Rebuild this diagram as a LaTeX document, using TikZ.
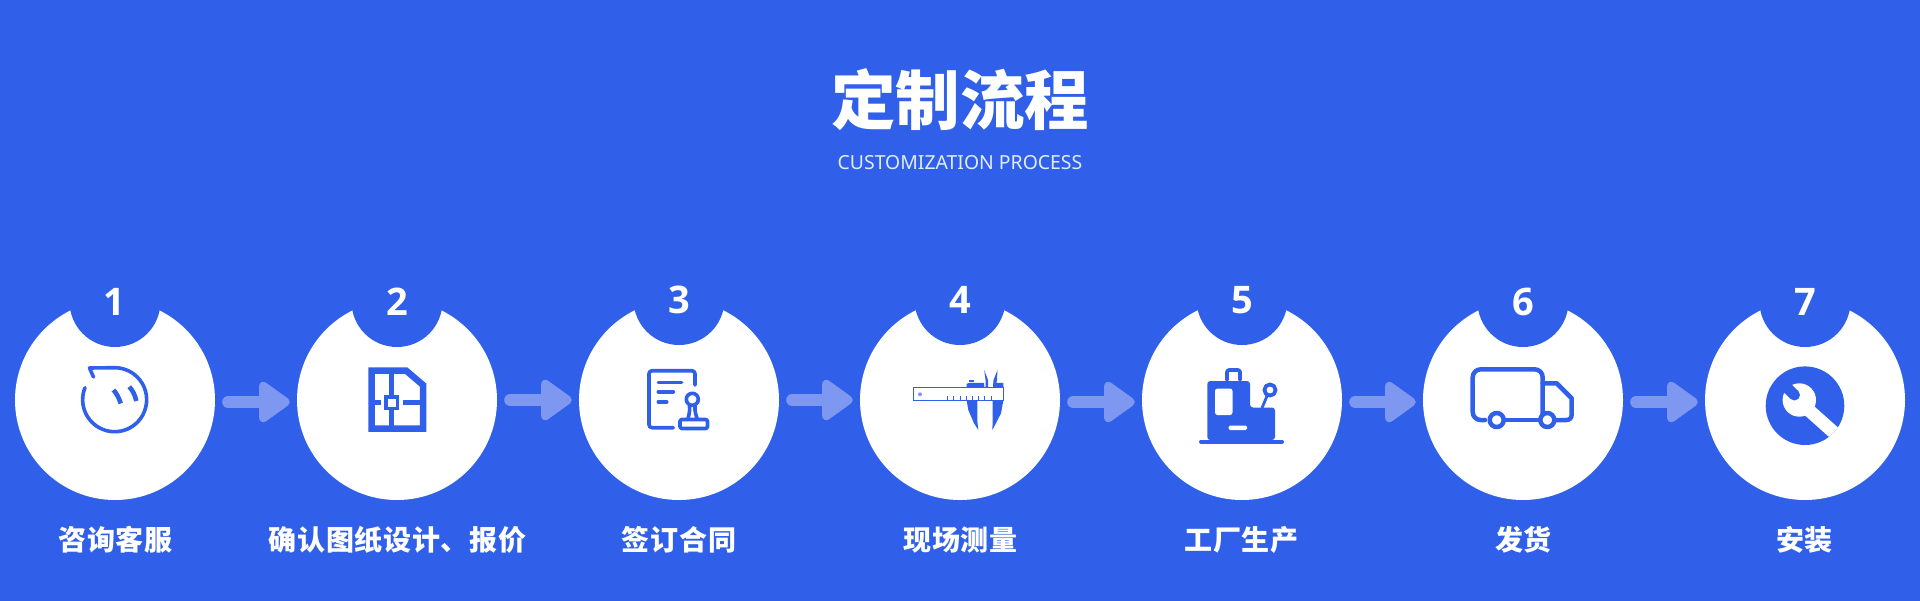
\documentclass[tikz,border=0pt]{standalone}
\usepackage{fontspec}
\usetikzlibrary{arrows.meta}
\setmainfont{Noto Sans}
\newfontfamily\cjk{Noto Sans CJK SC}
\newfontfamily\digitfont{Open Sans}
\newfontfamily\cjklab[LetterSpace=2.5]{Noto Sans CJK SC}
\definecolor{bgblue}{RGB}{48,96,234}
\definecolor{arrowblue}{RGB}{126,152,241}
\definecolor{subtxt}{RGB}{226,236,255}
\tikzset{
  bigdisc/.style={circle,fill=white,inner sep=0pt,minimum size=200pt},
  notchdisc/.style={circle,fill=bgblue,inner sep=0pt,minimum size=91pt},
  numtxt/.style={text=white,inner sep=0pt,font=\digitfont\bfseries\fontsize{38}{40}\selectfont},
  labtxt/.style={text=white,inner sep=0pt,font=\cjklab\bfseries\fontsize{28}{32}\selectfont},
  flowarrow/.style={draw=arrowblue,line width=12pt,line cap=round,shorten <=13pt,shorten >=7pt,
     -{Triangle[length=34pt,width=46pt,line width=9pt,round,fill=arrowblue,color=arrowblue]}},
  ico/.style={draw=bgblue,line width=3.6pt,line cap=round,line join=round,fill=none},
  icofill/.style={fill=bgblue,draw=none},
}
\begin{document}
\begin{tikzpicture}[x=1pt,y=-1pt]
\useasboundingbox (0,0) rectangle (1920,600);
\fill[bgblue] (-5,-5) rectangle (1925,605);
\node[text=white,inner sep=0pt,font=\cjk\bfseries\fontsize{64.5}{70}\selectfont] (title) at (960,100) {定制流程};
\node[text=subtxt,inner sep=0pt,font=\fontsize{19.4}{22}\selectfont] (subtitle) at (960,163) {CUSTOMIZATION PROCESS};
\foreach \i/\x/\ny/\nn/\nb/\lx/\lab in {
  1/115/347/114/302/115.5/咨询客服,
  2/397/347/397/302/397.5/确认图纸设计、报价,
  3/679/345/679/300/679/签订合同,
  4/960/345/960/300/960.5/现场测量,
  5/1242/345/1242/300/1241.5/工厂生产,
  6/1523/347/1523/302/1523.5/发货,
  7/1805/347/1805/302/1804.5/安装}{
  \node[bigdisc] (c\i) at (\x,400) {};
  \pgfmathsetmacro{\cy}{\ny-45.5}
  \node[notchdisc] (notch\i) at (\x,\cy) {};
  \node[numtxt] (num\i) at (\nn,\nb) {\i};
  \node[labtxt] (lab\i) at (\lx,540) {\lab};
}
\foreach \a/\b/\d in {1/2/-2,2/3/0,3/4/0,4/5/-2,5/6/-2,6/7/-2}{
  \draw[flowarrow] ([yshift=\d pt]c\a.east) -- ([yshift=\d pt]c\b.west);
}
% icon 1: chat bubble face
\draw[ico] (85,387.7) arc (202:-90:32) -- (89.5,368) -- (93.5,377);
\draw[ico,line cap=butt,line width=4.6pt] (113.5,390) .. controls (117,394) and (119,398) .. (120.7,403.5);
\draw[ico,line cap=butt,line width=4.6pt] (129.3,386.7) .. controls (133,391) and (135,395) .. (136.3,401);
% icon 2: floor plan
\draw[ico,line width=6.5pt,line cap=butt,line join=miter] (371.5,370.5) -- (406,370.5) -- (423,385) -- (423,428.5) -- (371.5,428.5) -- cycle;
\draw[ico,line width=4.8pt,line cap=butt] (391.7,370) -- (391.7,395);
\draw[ico,line width=4.8pt,line cap=butt] (391.7,410) -- (391.7,429);
\draw[ico,line width=4.8pt,line cap=butt] (374,402.7) -- (381,402.7);
\draw[ico,line width=4.8pt,line cap=butt] (403,402.7) -- (421,402.7);
\draw[ico,line width=3.4pt,line join=miter] (386,397) rectangle (397.4,408.4);
% icon 3: document and stamp
\draw[ico,rounded corners=3pt] (695,385) -- (695,370.7) -- (649,370.7) -- (649,427.7) -- (673.3,427.7);
\draw[ico] (658.3,382.3) -- (681.7,382.3);
\draw[ico] (658.3,391.7) -- (673.3,391.7);
\draw[ico] (658.3,401.7) -- (666.7,401.7);
\draw[ico] (692.3,399.3) circle (6);
\draw[ico] (689.5,406) .. controls (690,411) and (689,415) .. (688,418.3);
\draw[ico] (695,406) .. controls (694.5,411) and (696,415) .. (697,418.3);
\draw[ico,rounded corners=1.5pt] (680,419.5) rectangle (707.5,428.5);
% icon 4: caliper
\draw[icofill] (966.7,387.6) -- (966.7,384) -- (969,382.8) -- (984,382.8) -- (984.5,387.6) -- cycle;
\draw[icofill] (993,387.6) -- (993.3,382.8) -- (1003.3,382.8) -- (1003.3,387.6) -- cycle;
\draw[icofill] (969.3,379.8) rectangle (974.3,381.6);
\draw[icofill] (984.2,370) -- (988,380) -- (988,387.6) -- (985.5,387.6) -- (985.5,380) -- cycle;
\draw[icofill] (997.5,370) -- (993.5,380) -- (993.2,387.6) -- (995.5,387.6) -- (997,380) -- cycle;
\draw[icofill] (966.7,400.7) -- (977.3,400.7) -- (977.3,421) -- (978.3,430) -- (974,423.3) -- (968.3,410) -- cycle;
\draw[icofill] (992.7,400.7) -- (1003.3,400.7) -- (1001,413.3) -- (995,425) -- (992.3,430) -- (992.7,421) -- cycle;
\draw[draw=bgblue,line width=1.2pt,fill=white] (913.5,387.5) rectangle (1003.3,400.7);
\fill[arrowblue] (920,394.3) circle (2);
\foreach \k in {0,...,7}{
  \draw[draw=bgblue,line width=1pt] ({947.7+6.2*\k},396) -- ({947.7+6.2*\k},400.5);
}
% icon 5: machine
\draw[ico,rounded corners=2pt] (1227,380) -- (1227,370) -- (1240,370) -- (1240,380);
\draw[icofill,rounded corners=3pt] (1207.3,440) -- (1207.3,381) -- (1250,381) -- (1250,407.5) -- (1275,407.5) -- (1275,440) -- cycle;
\draw[ico,line width=4pt] (1201,441.5) -- (1282,441.5);
\fill[white,rounded corners=2.5pt] (1215,388.5) rectangle (1232.5,415);
\fill[white,rounded corners=1.5pt] (1228.5,425.5) rectangle (1247,430);
\draw[ico,line width=3.8pt] (1270,390) circle (5.6);
\draw[ico,line width=2.8pt,line cap=butt] (1267,396) -- (1262,408);
% icon 6: truck
\draw[ico,line width=4.5pt,rounded corners=8pt] (1485,420) -- (1472.7,420) -- (1472.7,369.3) -- (1542.7,369.3) -- (1542.7,420);
\draw[ico,line width=4.5pt,line join=round] (1542.7,383.3) -- (1556.7,383.3) -- (1571.7,398.3) -- (1571.7,414) .. controls (1571.7,418) and (1570,420) .. (1566,420) -- (1556,420);
\draw[ico,line width=4.5pt] (1505,420) -- (1538,420);
\draw[ico,line width=4.5pt,fill=white] (1496.7,420) circle (7);
\draw[ico,line width=4.5pt,fill=white] (1547.3,420) circle (7);
% icon 7: wrench
\fill[bgblue] (1805,405.7) circle (39.3);
\begin{scope}
\clip (1805,405.7) circle (39.3);
\draw[white,line width=13pt] (1803,405) -- (1840,438);
\end{scope}
\fill[white] (1799.3,400) circle (16.7);
\draw[bgblue,line width=11pt,line cap=round] (1794.5,395) -- (1782,383);
\end{tikzpicture}
\end{document}
